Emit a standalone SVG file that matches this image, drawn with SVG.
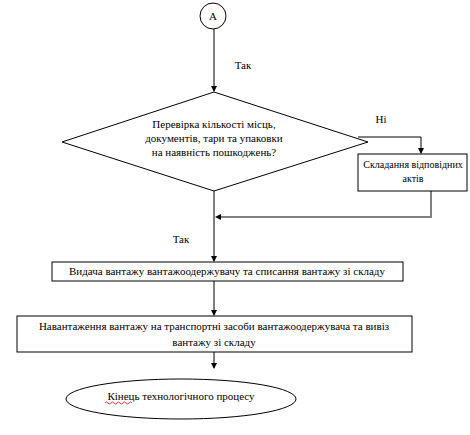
<svg xmlns="http://www.w3.org/2000/svg" width="470" height="435" viewBox="0 0 470 435">
<defs>
<style>
.s{fill:#fff;stroke:#000;stroke-width:1}
.t{font-family:"Liberation Serif","Times New Roman",serif;font-size:11px;fill:#000;text-anchor:middle}
.sm{font-size:10px}
.c{fill:none;stroke:#000;stroke-width:1}
.g{fill:none;stroke:#808080;stroke-width:2}
</style>
<marker id="ah" markerWidth="6" markerHeight="6" refX="5" refY="3" orient="auto" markerUnits="userSpaceOnUse">
<path d="M0,0 L6,3 L0,6 Z" fill="#000"/>
</marker>
</defs>
<rect width="470" height="435" fill="#fff"/>
<g id="connectors">
<line class="c" x1="214" y1="29" x2="214" y2="91" marker-end="url(#ah)"/>
<text class="t" x="243" y="69">Так</text>
<polyline class="c" points="358,137 421,137 421,153" marker-end="url(#ah)"/>
<text class="t" x="381" y="123">Ні</text>
<polyline class="g" points="431,191 431,217 217,217"/>
<path d="M215,217 L221,214 L221,220 Z" fill="#000"/>
<line class="c" x1="214" y1="191" x2="214" y2="261" marker-end="url(#ah)"/>
<text class="t" x="181" y="243">Так</text>
<line class="c" x1="214" y1="281" x2="214" y2="315" marker-end="url(#ah)"/>
<line class="c" x1="214" y1="352" x2="214" y2="368" marker-end="url(#ah)"/>
</g>
<g id="start">
<circle class="s" cx="213" cy="16" r="13"/>
<text class="t" x="213" y="20">А</text>
</g>
<g id="check">
<polygon class="s" points="214,92 368,142 214,191 62,142"/>
<text class="t" x="214" y="128">Перевірка кількості місць,</text>
<text class="t" x="214" y="142">документів, тари та упаковки</text>
<text class="t" x="214" y="156">на наявність пошкоджень?</text>
</g>
<g id="acts">
<rect class="s" x="358" y="154" width="109" height="37"/>
<text class="t sm" x="413" y="168">Складання відповідних</text>
<text class="t sm" x="413" y="182">актів</text>
</g>
<g id="issue">
<rect class="s" x="52" y="262" width="351" height="19"/>
<text class="t" x="227" y="275">Видача вантажу вантажоодержувачу та списання вантажу зі складу</text>
</g>
<g id="load">
<rect class="s" x="17" y="316" width="395" height="36"/>
<text class="t" x="214" y="330">Навантаження вантажу на транспортні засоби вантажоодержувача та вивіз</text>
<text class="t" x="214" y="346">вантажу зі складу</text>
</g>
<g id="end">
<ellipse class="s" cx="181" cy="399" rx="115" ry="20"/>
<text class="t" x="181" y="400">Кінець технологічного процесу</text>
<path d="M105,403 q1.5,-2 3,0 t3,0 t3,0 t3,0 t3,0 t3,0 t3,0 t3,0 t3,0" fill="none" stroke="#e00000" stroke-width="0.8"/>
</g>
</svg>
